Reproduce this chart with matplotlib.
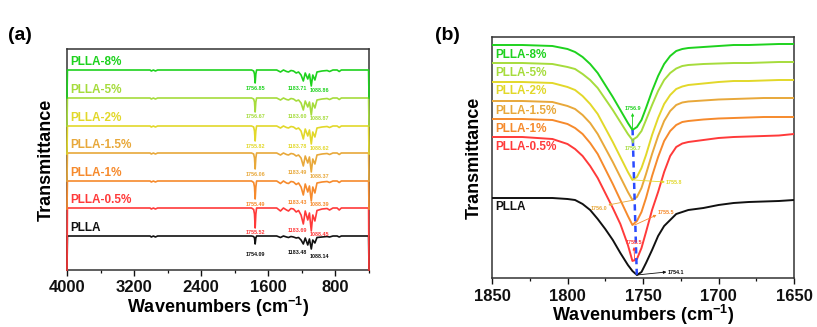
import matplotlib
matplotlib.use("Agg")
import matplotlib.pyplot as plt

plt.rcParams['font.family'] = ['Liberation Sans', 'DejaVu Sans']
plt.rcParams['font.weight'] = 'bold'
plt.rcParams['mathtext.fontset'] = 'custom'
plt.rcParams['mathtext.rm'] = 'Liberation Sans:bold'
plt.rcParams['mathtext.bf'] = 'Liberation Sans:bold'
plt.rcParams['mathtext.default'] = 'regular'

# ---------------- data ----------------
names = ['PLLA', 'PLLA-0.5%', 'PLLA-1%', 'PLLA-1.5%', 'PLLA-2%', 'PLLA-5%', 'PLLA-8%']
colors = ['#111111', '#ff3a3a', '#f68a2c', '#e8a83a', '#e2d82a', '#a6dc3c', '#1ed21e']

# panel (a): full FTIR spectra (relative transmittance, baseline 0) and stacking offsets
wn_a = [4000, 3995, 3500, 3010, 2995, 2970, 2946, 2920, 2000, 1800, 1775, 1765, 1757, 1749,
        1740, 1700, 1500, 1455, 1420, 1383, 1360, 1330, 1300, 1268, 1240, 1210, 1183, 1160,
        1130, 1110, 1088, 1070, 1045, 1020, 960, 900, 870, 830, 780, 755, 730, 600, 500, 405, 400]
spec_plla = [-34, 0, 0, 0, -1, 0, -1, 0, 0, 0, -0.5, -2, -8, -2, 0, 0, 0, -1.5, 0, -1, -1.5, -0.5,
             -1, -2, -1.5, -4, -8, -2, -9, -3, -13, -4, -7, -1.5, -1, -0.5, -1, 0, 0, -1, 0, 0, 0, 0, -34]
spec_05 = [-62, 0, 0, 0, -1, 0, -1, 0, 0, 0, -1.5, -6, -20, -6, 0, 0, 0, -3, 0, -2, -3, -0.5,
           -1, -4, -2.5, -7, -16, -3, -12, -5, -23, -7, -13, -2.5, -1, -0.5, -2, 0, 0, -2, 0, 0, 0, 0, -62]
spec_1 = [-28, 0, 0, 0, -1, 0, -1, 0, 0, 0, -1.5, -6, -18, -6, 0, 0, 0, -2.5, 0, -2, -2.5, -0.5,
          -1, -3.5, -2, -6, -14, -3, -11, -5, -20, -6, -12, -2, -1, -0.5, -1.5, 0, 0, -1.5, 0, 0, 0, 0, -28]
spec_15 = [-28, 0, 0, 0, -1, 0, -1, 0, 0, 0, -1, -5, -16, -5, 0, 0, 0, -2, 0, -1.5, -2, -0.5,
           -1, -3, -2, -5, -13, -3, -10, -4, -19, -6, -11, -2, -1, -0.5, -1.5, 0, 0, -1.5, 0, 0, 0, 0, -28]
spec_2 = [-28, 0, 0, 0, -1, 0, -1, 0, 0, 0, -1, -5, -15, -5, 0, 0, 0, -2, 0, -1.5, -2, -0.5,
          -1, -3, -2, -5, -13, -3, -10, -4, -18, -6, -11, -2, -1, -0.5, -1.5, 0, 0, -1.5, 0, 0, 0, 0, -28]
spec_5 = [-28, 0, 0, 0, -1, 0, -1, 0, 0, 0, -1, -4, -14, -4, 0, 0, 0, -2, 0, -1.5, -2, -0.5,
          -1, -3, -2, -5, -12, -3, -9, -4, -17, -5, -10, -2, -1, -0.5, -1.5, 0, 0, -1.5, 0, 0, 0, 0, -28]
spec_8 = [-28, 0, 0, 0, -1, 0, -1, 0, 0, 0, -1, -4, -13, -4, 0, 0, 0, -2, 0, -1.5, -2, -0.5,
          -1, -3, -2, -5, -11, -3, -9, -4, -16, -5, -10, -2, -1, -0.5, -1.5, 0, 0, -1.5, 0, 0, 0, 0, -28]
spectra_a = [spec_plla, spec_05, spec_1, spec_15, spec_2, spec_5, spec_8]
offsets_a = [34, 62, 89, 117, 144, 172, 200]

peak_c_o = ['1754.09', '1755.52', '1755.49', '1756.06', '1755.82', '1756.67', '1756.85']
peak_c_o_c = ['1183.48', '1183.69', '1183.43', '1183.49', '1183.78', '1183.60', '1183.71']
peak_c_o_c2 = ['1088.14', '1088.45', '1088.39', '1088.37', '1088.62', '1088.87', '1088.86']

# panel (b): zoom on C=O band (transmittance, a.u.)
wn_b = [1850, 1830, 1810, 1800, 1795, 1790, 1785, 1780, 1775, 1770, 1765, 1760, 1757, 1754, 1751,
        1748, 1744, 1740, 1736, 1732, 1728, 1724, 1720, 1710, 1700, 1690, 1680, 1670, 1660, 1650]
t_plla = [80, 80, 80, 79, 78, 74, 68, 59, 49, 38, 25, 13, 7, 3, 6, 15, 28, 42, 52, 58, 64, 66, 68,
          70, 73, 75, 76, 76.5, 77, 78]
t_05 = [141, 141, 139, 134, 129, 122, 112, 100, 85, 70, 54, 33, 17, 19, 30, 46, 68, 86, 106, 122,
        131, 134.5, 136, 138, 140, 141, 141.5, 142, 142.5, 144]
t_1 = [159, 159, 158, 154, 150, 144, 135, 124, 109, 94, 78, 62, 53, 57, 66, 80, 102, 121, 137, 147,
       153, 156, 157, 158.5, 159.5, 160, 160.5, 161, 161, 161]
t_15 = [177, 177, 176, 172, 169, 163, 155, 144, 130, 116, 101, 86, 78, 81, 90, 104, 124, 142, 157,
        167, 173, 175.5, 176.5, 177.5, 178.5, 179, 179.5, 180, 180, 180]
t_2 = [196, 196, 195, 191, 188, 182, 174, 164, 150, 136, 121, 106, 98, 101, 110, 123, 143, 160, 174,
       183, 189, 191.5, 193, 194.5, 196, 197, 197, 197.5, 198, 198]
t_5 = [215, 215, 214, 211, 209, 204, 198, 190, 179, 168, 156, 144, 138, 141, 147, 158, 173, 187, 198,
       205, 209.5, 212, 213, 214, 214.5, 215, 215, 215.5, 216, 216]
t_8 = [233, 233, 232, 229, 226, 221, 214, 205, 193, 181, 168, 155, 148, 151, 158, 170, 187, 202, 214,
       222, 227, 229, 230, 231, 232, 233, 233, 233.5, 234, 234]
curves_b = [t_plla, t_05, t_1, t_15, t_2, t_5, t_8]
peak_b = [1754.1, 1755.5, 1755.5, 1756.0, 1755.8, 1756.7, 1756.9]
peak_b_txt = ['1754.1', '1755.5', '1755.5', '1756.0', '1755.8', '1756.7', '1756.9']

ticks_a = [4000, 3200, 2400, 1600, 800]
ticks_b = [1850, 1800, 1750, 1700, 1650]

# ---------------- figure ----------------
W, H = 817, 327
fig = plt.figure(figsize=(W / 100, H / 100), dpi=100)
ax1 = fig.add_axes([67 / W, 1 - 270 / H, 302 / W, 221 / H])
ax2 = fig.add_axes([492 / W, 1 - 278 / H, 302 / W, 241 / H])

spine_col = '#333333'
for ax in (ax1, ax2):
    for s in ax.spines.values():
        s.set_color(spine_col)
        s.set_linewidth(1.1)
    ax.set_yticks([])
    ax.tick_params(axis='x', which='major', direction='out', length=4, width=1,
                   labelsize=12, pad=3, colors='#111111')
    ax.tick_params(axis='x', which='minor', direction='out', length=2.5, width=0.9,
                   colors='#111111')
    ax.set_ylabel('Transmittance', fontsize=13, fontweight='bold')

ax1.set_xlabel(r'Wavenumbers (cm$^{-1}$)', fontsize=13, fontweight='bold', labelpad=0)
ax2.set_xlabel(r'Wavenumbers (cm$^{-1}$)', fontsize=13, fontweight='bold', labelpad=-1)
ax2.tick_params(axis='x', which='major', pad=4)

# panel (a)
for i in range(len(names)):
    y = [v + offsets_a[i] for v in spectra_a[i]]
    ax1.plot(wn_a, y, color=colors[i], lw=1.2, zorder=3, clip_on=False)
    base = offsets_a[i]
    ax1.text(3965, base + 8, names[i], color=colors[i], fontsize=8.5, fontweight='bold',
             ha='left', va='center')
    s = spectra_a[i]
    d1 = -min(s[10:15])
    d2 = -s[26]
    d3 = -min(s[28:33])
    ax1.text(1756, base - max(d1 + 5, 18), peak_c_o[i], color=colors[i], fontsize=3.9,
             fontweight='bold', ha='center', va='center')
    ax1.text(1250, base - max(d2 + 7, 16), peak_c_o_c[i], color=colors[i], fontsize=3.9,
             fontweight='bold', ha='center', va='center')
    ax1.text(990, base - max(d3 + 4, 21), peak_c_o_c2[i], color=colors[i], fontsize=3.9,
             fontweight='bold', ha='center', va='center')
ax1.set_xlim(4000, 410)
ax1.set_ylim(0, 221)
ax1.set_xticks(ticks_a)
ax1.set_xticks([3600, 2800, 2000, 1200, 400], minor=True)
ax1.yaxis.labelpad = 9

# panel (b)
for i in range(len(names)):
    ax2.plot(wn_b, curves_b[i], color=colors[i], lw=1.4, zorder=3)
    ax2.text(1848, curves_b[i][0] - 9.5, names[i], color=colors[i], fontsize=8.5,
             fontweight='bold', ha='left', va='center')

ax2.plot([peak_b[0], peak_b[-1]], [min(curves_b[0]), min(curves_b[-1])], color='#2a4bff',
         lw=1.8, ls=(0, (2.5, 1.8)), zorder=5)

ann_kw = dict(fontsize=3.9, fontweight='bold')
arrow_specs = [
    (0, 1734.5, 6, 1733.8, 6, 'left'),
    (1, 1756.0, 31, 1756.3, 36, 'center'),
    (2, 1741.0, 63, 1740.5, 66, 'left'),
    (3, 1773.0, 73, 1773.5, 70, 'right'),
    (4, 1735.5, 96, 1735.0, 96, 'left'),
    (5, 1756.7, 134, 1756.7, 130, 'center'),
    (6, 1756.9, 165, 1756.9, 169, 'center'),
]
for i, xa_, ya_, xt, yt, ha in arrow_specs:
    ax2.annotate('', xy=(xa_, ya_), xytext=(peak_b[i], min(curves_b[i])),
                 arrowprops=dict(arrowstyle='-|>', lw=0.6, color=colors[i], mutation_scale=4,
                                 shrinkA=0, shrinkB=0), zorder=6)
    ax2.text(xt, yt, peak_b_txt[i], color=colors[i], ha=ha, va='center', zorder=6, **ann_kw)

ax2.set_xlim(1850, 1650)
ax2.set_ylim(0, 241)
ax2.set_xticks(ticks_b)
ax2.set_xticks([1825, 1775, 1725, 1675], minor=True)
ax2.yaxis.labelpad = 7

fig.text(8 / W, 1 - 35 / H, '(a)', fontsize=14, fontweight='bold', ha='left', va='center')
fig.text(435 / W, 1 - 35 / H, '(b)', fontsize=14, fontweight='bold', ha='left', va='center')

fig.savefig('out.png', dpi=100)
